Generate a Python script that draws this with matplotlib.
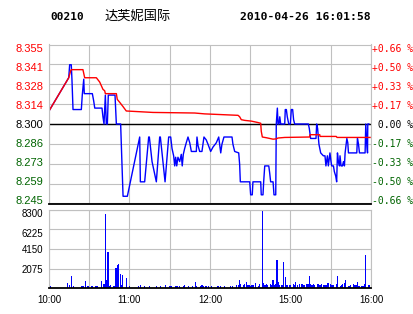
import matplotlib
matplotlib.use('Agg')
import matplotlib.pyplot as plt

# minutes since 10:00 (trading minutes, 240 = 16:00)
price_t = [0, 14.7, 15.4, 16.6, 17.1, 17.9, 24.1, 24.8, 25.9, 26.3,
           32.3, 33.3, 34.1, 39.5, 40.2, 41.0, 42.0, 42.7, 43.5, 44.2,
           49.2, 49.7, 50.2, 53.4, 53.9, 54.4, 55.2, 58.4, 67.6, 68.1,
           71.3, 74.3, 74.8, 76.8, 80.0, 82.5, 83.0, 86.5, 89.2, 90.7,
           91.7, 92.9, 93.7, 94.4, 95.2, 96.1, 97.4, 98.6, 99.3, 100.1,
           101.1, 102.3, 103.6, 104.9, 106.1, 109.8, 110.3, 111.1, 112.3, 114.0,
           115.5, 117.2, 118.5, 120.5, 122.2, 124.7, 126.5, 128.0, 128.9, 130.4,
           136.4, 137.1, 138.4, 141.4, 142.1, 142.6, 149.6, 150.3, 151.5, 152.0,
           157.8, 158.2, 159.5, 160.0, 160.8, 163.8, 164.5, 165.2, 167.0, 167.7,
           169.0, 169.4, 170.2, 170.7, 171.4, 172.0, 172.7, 175.7, 176.1, 176.9,
           177.6, 178.7, 179.9, 180.6, 181.6, 182.3, 183.1, 193.3, 194.0, 195.0,
           199.0, 199.5, 200.2, 201.2, 202.5, 204.5, 205.7, 206.4, 207.5, 208.2,
           209.4, 210.2, 210.7, 212.0, 212.7, 213.7, 214.4, 215.0, 215.7, 216.5,
           216.9, 217.7, 218.7, 219.5, 220.2, 220.7, 221.5, 222.0, 222.7, 223.2,
           229.4, 229.9, 230.7, 231.4, 235.6, 236.1, 236.9, 237.4, 237.6, 238.4]
price_v = [8.309, 8.332, 8.341, 8.341, 8.331, 8.310, 8.310, 8.320, 8.331, 8.321,
           8.321, 8.316, 8.311, 8.311, 8.305, 8.300, 8.320, 8.300, 8.300, 8.320,
           8.320, 8.310, 8.300, 8.300, 8.287, 8.272, 8.250, 8.250, 8.291, 8.260,
           8.260, 8.291, 8.291, 8.274, 8.260, 8.291, 8.291, 8.260, 8.291, 8.291,
           8.283, 8.278, 8.271, 8.277, 8.271, 8.277, 8.274, 8.279, 8.271, 8.279,
           8.283, 8.287, 8.291, 8.287, 8.281, 8.281, 8.291, 8.285, 8.281, 8.281,
           8.291, 8.289, 8.286, 8.281, 8.284, 8.287, 8.291, 8.280, 8.286, 8.291,
           8.291, 8.286, 8.281, 8.280, 8.272, 8.260, 8.260, 8.251, 8.251, 8.260,
           8.260, 8.251, 8.251, 8.260, 8.271, 8.271, 8.266, 8.260, 8.260, 8.251,
           8.251, 8.300, 8.311, 8.300, 8.300, 8.305, 8.300, 8.300, 8.310, 8.310,
           8.305, 8.300, 8.300, 8.310, 8.310, 8.303, 8.300, 8.300, 8.297, 8.290,
           8.290, 8.300, 8.297, 8.286, 8.280, 8.278, 8.278, 8.271, 8.278, 8.271,
           8.280, 8.274, 8.271, 8.271, 8.267, 8.264, 8.260, 8.280, 8.274, 8.271,
           8.278, 8.271, 8.271, 8.274, 8.271, 8.280, 8.286, 8.290, 8.287, 8.280,
           8.280, 8.290, 8.286, 8.280, 8.280, 8.300, 8.286, 8.280, 8.300, 8.300]

avg_t = [0, 14.7, 16.2, 16.6, 25.3, 26.6, 35.3, 37.8, 40.2, 41.5,
         42.0, 50.2, 50.9, 52.7, 55.2, 57.6, 77.5, 108.6, 116.0, 140.9,
         142.1, 143.3, 145.9, 150.8, 155.8, 157.8, 158.2, 159.0, 162.0, 167.0,
         169.4, 170.7, 175.7, 194.3, 194.5, 201.8, 202.0, 214.1, 214.7, 239.3]
avg_v = [8.309, 8.332, 8.337, 8.3376, 8.3376, 8.332, 8.332, 8.329, 8.324, 8.323,
         8.321, 8.321, 8.317, 8.315, 8.312, 8.309, 8.308, 8.3076, 8.307, 8.306,
         8.305, 8.303, 8.3025, 8.302, 8.301, 8.3005, 8.295, 8.291, 8.2905, 8.2895,
         8.2897, 8.2903, 8.2907, 8.291, 8.2926, 8.2926, 8.2914, 8.2914, 8.2907, 8.2907]

vol_t = [1, 14, 15, 17, 18, 24, 25, 26, 27, 29,
         32, 35, 36, 39, 41, 42, 43, 44, 45, 46,
         48, 49, 50, 51, 52, 53, 54, 55, 58, 60,
         67, 68, 71, 75, 80, 83, 87, 90, 91, 94,
         95, 96, 97, 100, 101, 104, 107, 109, 110, 113,
         114, 115, 117, 119, 121, 126, 128, 131, 135, 137,
         140, 141, 142, 143, 145, 146, 147, 148, 149, 150,
         151, 152, 154, 156, 157, 159, 160, 161, 162, 163,
         165, 166, 167, 168, 169, 170, 171, 172, 173, 174,
         175, 176, 177, 178, 179, 180, 182, 183, 184, 185,
         187, 188, 189, 190, 192, 193, 194, 195, 196, 197,
         198, 200, 201, 202, 203, 205, 206, 207, 208, 210,
         211, 212, 214, 215, 217, 218, 219, 220, 221, 223,
         224, 225, 227, 228, 229, 230, 231, 233, 234, 235,
         236, 238, 239]
vol_v = [250, 560, 350, 1300, 250, 250, 250, 250, 780, 250,
         250, 250, 250, 780, 460, 7870, 880, 3850, 200, 350,
         250, 250, 2150, 2470, 2580, 1520, 350, 1410, 1090, 250,
         250, 350, 250, 250, 250, 250, 350, 250, 250, 250,
         250, 250, 250, 250, 350, 250, 250, 670, 250, 250,
         350, 250, 250, 250, 250, 250, 250, 250, 250, 250,
         350, 350, 880, 460, 350, 460, 635, 350, 350, 250,
         350, 350, 565, 250, 460, 8190, 565, 350, 460, 350,
         460, 350, 850, 350, 460, 3000, 635, 350, 350, 350,
         2790, 1200, 350, 350, 350, 350, 460, 350, 635, 350,
         460, 460, 460, 350, 460, 460, 1300, 460, 350, 460,
         350, 460, 460, 350, 460, 350, 350, 350, 565, 460,
         350, 350, 460, 1300, 250, 350, 460, 565, 880, 250,
         250, 350, 460, 350, 350, 670, 250, 250, 250, 460,
         3530, 350, 350]

prev_close = 8.300
price_ticks = [8.245, 8.25875, 8.2725, 8.28625, 8.300, 8.31375, 8.3275, 8.34125, 8.355]
price_labels = ['8.245', '8.259', '8.273', '8.286', '8.300', '8.314', '8.328', '8.341', '8.355']
pct_labels = ['-0.66 %', '-0.50 %', '-0.33 %', '-0.17 %', ' 0.00 %',
              '+0.17 %', '+0.33 %', '+0.50 %', '+0.66 %']
vol_ticks = [0, 2075, 4150, 6225, 8300]
vol_labels = ['', '2075', '4150', '6225', '8300']
time_ticks = [0, 30, 60, 90, 120, 150, 180, 210, 240]
time_labels = ['10:00', '', '11:00', '', '12:00', '', '15:00', '', '16:00']

code = '00210'
name = '达芙妮国际'
stamp = '2010-04-26 16:01:58'

red = '#ff0000'
green = '#006400'
grid_c = '#c0c0c0'
label_squeeze = 0.956          # price labels sit slightly inside their gridlines
vol_label_drop = [0, 0.7, 0, 3.5, 3.3]   # px the volume labels sit below their lines

fig = plt.figure(figsize=(4.14, 3.14), dpi=100)
ax = fig.add_axes([49/414, 110.5/314, 322/414, 159/314])
av = fig.add_axes([49/414, 25.7/314, 322/414, 78.6/314])

for a in (ax, av):
    a.set_xlim(0, 240)
    a.set_xticks(time_ticks)
    a.xaxis.grid(True, color=grid_c, lw=0.8)
    a.set_axisbelow(True)
    a.tick_params(length=0)
    for s in ('left', 'top', 'right'):
        a.spines[s].set_color(grid_c)
        a.spines[s].set_linewidth(0.8)
    a.spines['bottom'].set_color('black')
    a.spines['bottom'].set_linewidth(1.3)

# price panel
ax.set_ylim(price_ticks[0], price_ticks[-1])
for p in price_ticks:
    ax.axhline(p, color=grid_c, lw=0.8, zorder=0.5)
label_pos = [prev_close + (p - prev_close) * label_squeeze for p in price_ticks]
ax.set_yticks(label_pos)
ax.set_yticklabels(price_labels, fontfamily='Liberation Sans', fontsize=8)
ax.tick_params(axis='y', pad=4)
ax.set_xticklabels([])
for lab, p in zip(ax.get_yticklabels(), price_ticks):
    lab.set_color(red if p > prev_close else (green if p < prev_close else 'black'))
ax.axhline(prev_close, color='black', lw=1.0, zorder=1)
ax.plot(price_t, price_v, color='#0000ff', lw=1.0, zorder=2)
ax.plot(avg_t, avg_v, color=red, lw=1.0, zorder=2)

ax2 = ax.twinx()
ax2.set_ylim([(p - prev_close) / prev_close * 100 for p in (price_ticks[0], price_ticks[-1])])
ax2.set_yticks([(p - prev_close) / prev_close * 100 for p in label_pos])
ax2.set_yticklabels(pct_labels, fontfamily='DejaVu Sans Mono', fontsize=7)
ax2.tick_params(length=0, pad=1)
for s in ax2.spines.values():
    s.set_visible(False)
for lab, p in zip(ax2.get_yticklabels(), price_ticks):
    lab.set_color(red if p > prev_close else (green if p < prev_close else 'black'))

# volume panel
av.set_ylim(0, 8300)
for v in vol_ticks:
    av.axhline(v, color=grid_c, lw=0.8, zorder=0.5)
px = 8300 / 78.6
av.set_yticks([v - d * px for v, d in zip(vol_ticks, vol_label_drop)])
av.set_yticklabels(vol_labels, fontfamily='Liberation Sans', fontsize=7)
av.bar(vol_t, vol_v, width=0.9, color='#0000ff', linewidth=0, zorder=2)
av.set_xticklabels(time_labels, fontfamily='Liberation Sans', fontsize=7)
av.tick_params(axis='x', pad=5)
av.tick_params(axis='y', pad=4)

# header
fig.text(50/414, 1 - 17/314, code, fontfamily='DejaVu Sans Mono', fontweight='bold',
         fontsize=8, va='center', ha='left')
fig.text(104/414, 1 - 16/314, name, family=['Noto Sans CJK SC', 'DejaVu Sans'],
         fontsize=9.5, va='center', ha='left')
fig.text(371/414, 1 - 17/314, stamp, fontfamily='DejaVu Sans Mono', fontweight='bold',
         fontsize=8.2, va='center', ha='right')

fig.savefig('out.png', dpi=100)
